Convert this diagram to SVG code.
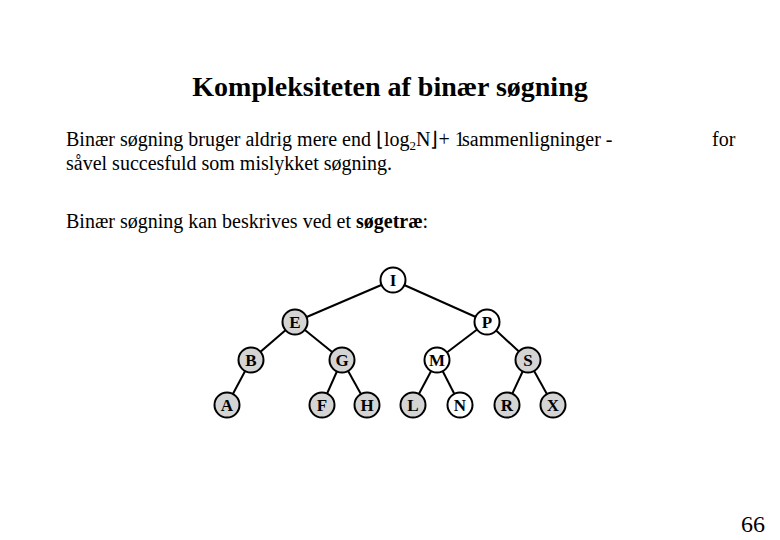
<svg xmlns="http://www.w3.org/2000/svg" width="780" height="540" viewBox="0 0 780 540">
<style>
text{font-family:"Liberation Serif","Times New Roman",serif;fill:#000}
.t{font-size:20px}
.n circle{stroke:#000;stroke-width:2;fill:#d4d4d4}
.n.w circle{fill:#fff}
.n text{font-size:17px;font-weight:bold;text-anchor:middle}
#edges line{stroke:#000;stroke-width:2}
</style>
<rect width="780" height="540" fill="#fff"/>
<text x="390" y="96" font-size="28" font-weight="bold" text-anchor="middle">Kompleksiteten af binær søgning</text>
<text class="t" x="66" y="146">Binær søgning bruger aldrig mere end ⌊log<tspan font-size="13" dy="4">2</tspan><tspan dy="-4">N⌋+ 1</tspan><tspan x="462">sammenligninger -</tspan></text>
<text class="t" x="712" y="146">for</text>
<text class="t" x="66" y="170">såvel succesfuld som mislykket søgning.</text>
<text class="t" x="66" y="228">Binær søgning kan beskrives ved et <tspan font-weight="bold">søgetræ</tspan>:</text>
<g id="edges">
<line x1="393" y1="280" x2="295" y2="322"/><line x1="393" y1="280" x2="487" y2="322"/>
<line x1="295" y1="322" x2="251" y2="360"/><line x1="295" y1="322" x2="342" y2="360"/>
<line x1="487" y1="322" x2="437" y2="360"/><line x1="487" y1="322" x2="528" y2="360"/>
<line x1="251" y1="360" x2="227" y2="405"/>
<line x1="342" y1="360" x2="322" y2="405"/><line x1="342" y1="360" x2="367" y2="405"/>
<line x1="437" y1="360" x2="413" y2="405"/><line x1="437" y1="360" x2="460" y2="405"/>
<line x1="528" y1="360" x2="507" y2="405"/><line x1="528" y1="360" x2="553" y2="405"/>
</g>
<g id="nI" class="n w"><circle cx="393" cy="280" r="12.5"/><text x="393" y="286">I</text></g>
<g id="nE" class="n"><circle cx="295" cy="322" r="12.5"/><text x="295" y="328">E</text></g>
<g id="nP" class="n w"><circle cx="487" cy="322" r="12.5"/><text x="487" y="328">P</text></g>
<g id="nB" class="n"><circle cx="251" cy="360" r="12.5"/><text x="251" y="366">B</text></g>
<g id="nG" class="n"><circle cx="342" cy="360" r="12.5"/><text x="342" y="366">G</text></g>
<g id="nM" class="n w"><circle cx="437" cy="360" r="12.5"/><text x="437" y="366">M</text></g>
<g id="nS" class="n"><circle cx="528" cy="360" r="12.5"/><text x="528" y="366">S</text></g>
<g id="nA" class="n"><circle cx="227" cy="405" r="12.5"/><text x="227" y="411">A</text></g>
<g id="nF" class="n"><circle cx="322" cy="405" r="12.5"/><text x="322" y="411">F</text></g>
<g id="nH" class="n"><circle cx="367" cy="405" r="12.5"/><text x="367" y="411">H</text></g>
<g id="nL" class="n"><circle cx="413" cy="405" r="12.5"/><text x="413" y="411">L</text></g>
<g id="nN" class="n w"><circle cx="460" cy="405" r="12.5"/><text x="460" y="411">N</text></g>
<g id="nR" class="n"><circle cx="507" cy="405" r="12.5"/><text x="507" y="411">R</text></g>
<g id="nX" class="n"><circle cx="553" cy="405" r="12.5"/><text x="553" y="411">X</text></g>
<text x="765" y="532" font-size="24" text-anchor="end">66</text>
</svg>
